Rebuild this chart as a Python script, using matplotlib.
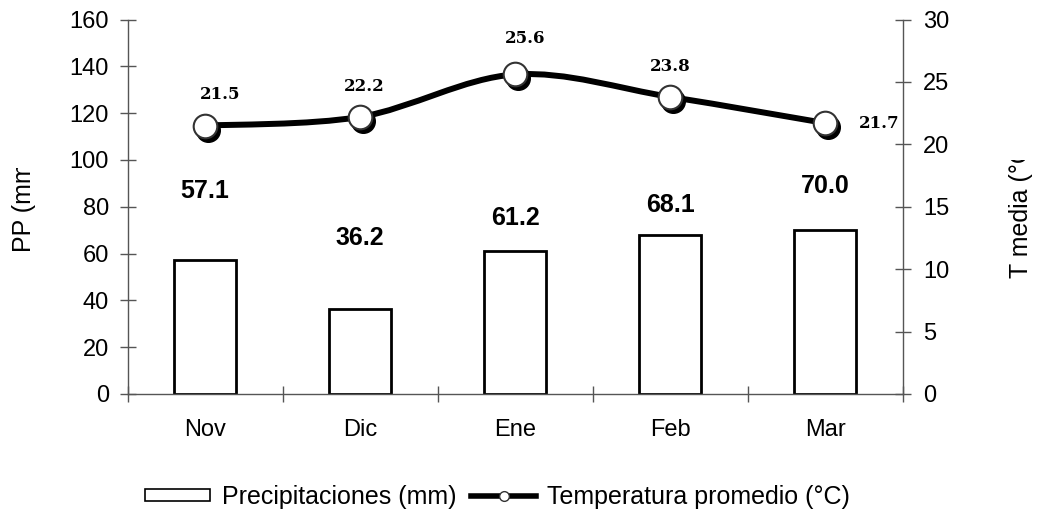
import numpy as np
import matplotlib.pyplot as plt
from matplotlib.path import Path
from matplotlib.patches import PathPatch, Patch
from matplotlib.lines import Line2D
from matplotlib.transforms import Bbox, TransformedBbox, offset_copy

plt.rcParams['font.family'] = ['Liberation Sans', 'DejaVu Sans']

months = ['Nov', 'Dic', 'Ene', 'Feb', 'Mar']
precip = [57.1, 36.2, 61.2, 68.1, 70.0]
temp = [21.5, 22.2, 25.6, 23.8, 21.7]

# label offsets in pixels (placed by hand)
bar_lbl_dy = [69, 71, 33, 30, 44]
tmp_lbl_off = [(15, 31), (4, 30), (10, 36), (0, 30), (54, 0)]

fig = plt.figure(figsize=(10.37, 5.14), dpi=100)
ax = fig.add_axes([0.1231, 0.2335, 0.8708 - 0.1231, 0.962 - 0.2335])
ax2 = ax.twinx()

x = np.arange(len(months))
axis_col = '#555555'

ax.bar(x, precip, width=0.4, facecolor='white', edgecolor='black', linewidth=2, zorder=2)
for xi, v, dy in zip(x, precip, bar_lbl_dy):
    ax.annotate(f'{v:.1f}', (xi, v), xytext=(0, dy), textcoords='offset pixels',
                ha='center', va='center', fontsize=18, fontweight='bold')

ax.set_xlim(-0.5, 4.5)
ax.set_ylim(0, 160)
ax.set_yticks(np.arange(0, 161, 20))
ax.set_xticks(x, months)
ax.set_xticks(np.arange(-0.5, 4.6, 1), minor=True)
ax.tick_params(axis='x', which='major', length=0, pad=18, labelsize=17)
ax.tick_params(axis='x', which='minor', direction='inout', length=11, width=1, color=axis_col)
ax.tick_params(axis='y', direction='inout', length=11, width=1, color=axis_col, pad=8, labelsize=17)
for s in ['top', 'right']:
    ax.spines[s].set_visible(False)
for s in ['left', 'bottom']:
    ax.spines[s].set_color(axis_col)
    ax.spines[s].set_linewidth(1)

# smoothed temperature curve (Catmull-Rom as cubic Bezier)
pts = np.column_stack([x, temp]).astype(float)
ext = np.vstack([pts[0], pts, pts[-1]])
verts = [tuple(pts[0])]
codes = [Path.MOVETO]
for i in range(len(pts) - 1):
    p0, p1, p2, p3 = ext[i], ext[i + 1], ext[i + 2], ext[i + 3]
    c1 = p1 + (p2 - p0) / 6
    c2 = p2 - (p3 - p1) / 6
    verts += [tuple(c1), tuple(c2), tuple(p2)]
    codes += [Path.CURVE4] * 3
ax2.add_patch(PathPatch(Path(verts, codes), facecolor='none', edgecolor='black',
                        linewidth=4.3, capstyle='round', zorder=3))

shadow = offset_copy(ax2.transData, fig=fig, x=3, y=-4, units='dots')
ax2.plot(x, temp, 'o', ms=17, color='black', transform=shadow, zorder=4)
ax2.plot(x, temp, 'o', ms=17, mfc='white', mec='#333333', mew=1.5, zorder=5)
for xi, v, (dx, dy) in zip(x, temp, tmp_lbl_off):
    ax2.annotate(f'{v:.1f}', (xi, v), xytext=(dx, dy), textcoords='offset pixels',
                 ha='center', va='center', fontsize=12, fontweight='bold',
                 family='DejaVu Serif', zorder=6)

ax2.set_ylim(0, 30)
ax2.set_yticks(np.arange(0, 31, 5))
ax2.tick_params(axis='y', direction='inout', length=11, width=1, color=axis_col, pad=9, labelsize=17)
for s in ['top', 'left', 'bottom']:
    ax2.spines[s].set_visible(False)
ax2.spines['right'].set_color(axis_col)
ax2.spines['right'].set_linewidth(1)

# axis titles, cut off at the top
t1 = fig.text(24 / 1037, 1 - 252 / 514, 'PP (mm)', rotation=90, ha='center', va='bottom', fontsize=18)
t1.set_clip_box(TransformedBbox(Bbox([[0, 0], [0.1, 1 - 168 / 514]]), fig.transFigure))
t1.set_clip_on(True)
t2 = fig.text(1021 / 1037, 1 - 278 / 514, 'T media (°C)', rotation=90, ha='center', va='bottom', fontsize=18)
t2.set_clip_box(TransformedBbox(Bbox([[0.9, 0], [1, 1 - 160 / 514]]), fig.transFigure))
t2.set_clip_on(True)

handles = [Patch(facecolor='white', edgecolor='black', linewidth=1.2),
           Line2D([], [], color='black', lw=4, marker='o', ms=7, mfc='white', mec='#333333')]
fig.legend(handles, ['Precipitaciones (mm)', 'Temperatura promedio (°C)'],
           loc='center', bbox_to_anchor=(0.48, 1 - 497 / 514), ncol=2, frameon=False,
           fontsize=18, handlelength=2.6, handleheight=0.4, handletextpad=0.45, columnspacing=0.6)

fig.savefig('out.png', dpi=100)
